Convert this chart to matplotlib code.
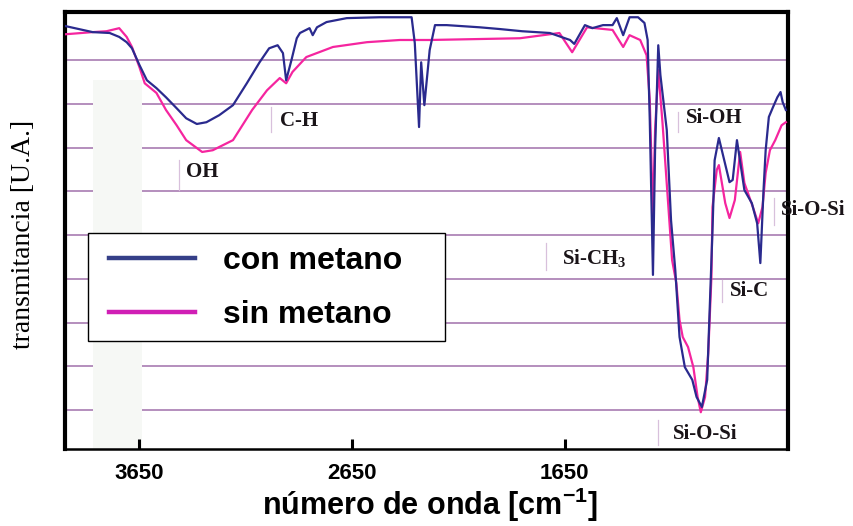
"""
Espectro FTIR (transmitancia) con / sin metano. Guarda out.png.
"""
import matplotlib
matplotlib.use("Agg")
import matplotlib.pyplot as plt
from matplotlib.lines import Line2D
from matplotlib.patches import Rectangle

# --- datos (numero de onda [cm-1], transmitancia [U.A.]) ---
con_wn = [4000, 3870, 3790, 3745, 3710, 3685, 3650, 3615, 3570, 3525, 3475, 3430,
          3380, 3335, 3275, 3210, 3145, 3085, 3040, 3000, 2975, 2960, 2935, 2910,
          2895, 2850, 2835, 2815, 2770, 2675, 2520, 2370, 2355, 2335, 2325, 2310,
          2285, 2260, 2205, 2050, 1955, 1850, 1720, 1625, 1605, 1555, 1520, 1470,
          1425, 1405, 1375, 1345, 1305, 1275, 1260, 1250, 1235, 1225, 1210, 1200,
          1170, 1150, 1130, 1110, 1085, 1050, 1030, 1005, 980, 970, 955, 945, 925,
          875, 860, 840, 805, 770, 745, 730, 715, 705, 690, 670, 650, 635, 625, 610]
con_t = [9.78, 9.64, 9.62, 9.53, 9.41, 9.27, 8.89, 8.54, 8.36, 8.15, 7.90, 7.67,
         7.54, 7.58, 7.74, 7.97, 8.47, 8.95, 9.27, 9.34, 9.16, 8.54, 9.00, 9.50,
         9.62, 9.73, 9.57, 9.75, 9.87, 9.96, 9.98, 9.98, 9.39, 7.47, 8.95, 7.97,
         9.23, 9.80, 9.80, 9.75, 9.71, 9.66, 9.62, 9.46, 9.37, 9.80, 9.73, 9.80,
         9.80, 9.96, 9.57, 9.98, 9.98, 9.85, 9.46, 7.63, 4.09, 6.94, 9.34, 8.66,
         7.40, 5.34, 4.20, 2.67, 1.98, 1.69, 1.30, 1.07, 1.69, 3.06, 5.11, 6.71, 7.22,
         6.21, 6.26, 7.17, 6.03, 5.73, 5.27, 4.36, 6.03, 6.94, 7.70, 7.93, 8.15, 8.27, 8.04, 7.86]

sin_wn = [4000, 3870, 3805, 3745, 3710, 3685, 3650, 3625, 3570, 3525, 3475, 3430,
          3380, 3355, 3305, 3210, 3120, 3050, 2990, 2960, 2930, 2865, 2740, 2580,
          2425, 2285, 1860, 1675, 1615, 1545, 1425, 1375, 1345, 1295, 1265, 1250,
          1235, 1225, 1210, 1190, 1145, 1125, 1110, 1095, 1070, 1045, 1025, 1010,
          990, 975, 960, 955, 935, 925, 895, 875, 850, 825, 805, 765, 740, 720,
          705, 685, 660, 630, 610]
sin_t = [9.59, 9.64, 9.66, 9.73, 9.53, 9.30, 8.84, 8.47, 8.25, 7.86, 7.51, 7.17,
         6.99, 6.90, 6.94, 7.17, 7.86, 8.31, 8.59, 8.47, 8.73, 9.07, 9.30, 9.41,
         9.46, 9.46, 9.50, 9.62, 9.18, 9.75, 9.69, 9.30, 9.57, 9.46, 9.11, 8.09,
         5.41, 7.40, 8.77, 7.56, 4.43, 3.90, 3.06, 2.67, 2.44, 1.98, 1.30, 0.95,
         1.30, 2.30, 4.04, 5.64, 6.49, 6.60, 5.73, 5.39, 5.80, 6.90, 6.19, 5.64,
         5.27, 5.64, 6.42, 6.94, 7.17, 7.51, 7.58]

xticks = [3650, 2650, 1650]
series_names = ["con metano", "sin metano"]

# bandas: texto, posicion del texto, marca vertical (x, y0, y1)
bands = [
    ("C-H", 2990, 7.61, 3030, 7.35, 7.93),
    ("OH", 3430, 6.44, 3465, 6.03, 6.71),
    ("Si-OH", 1080, 7.67, 1115, 7.35, 7.81),
    ("Si-O-Si", 635, 5.57, 665, 5.23, 5.85),
    (r"Si-CH$\mathregular{_3}$", 1665, 4.47, 1740, 4.20, 4.82),
    ("Si-C", 875, 3.72, 910, 3.47, 3.97),
    ("Si-O-Si", 1140, 0.45, 1210, 0.20, 0.77),
]

BLUE, PINK = "#2a2a8e", "#f5259f"
GRID = "#a87cb2"

fig = plt.figure(figsize=(8.54, 5.26), dpi=100)
ax = fig.add_axes([0.0761, 0.1464, 0.8466, 0.8308])
ax.set_xlim(4000, 600)
ax.set_ylim(0.11, 10.1)

for g in range(1, 10):
    ax.axhline(g, color=GRID, lw=1.2, zorder=1)
# franja clara del escaneo original
ax.axvspan(3870, 3636, ymin=0, ymax=0.844, color="#f6f8f5", lw=0, zorder=1.5)

ax.plot(sin_wn, sin_t, color=PINK, lw=1.6, zorder=3)
ax.plot(con_wn, con_t, color=BLUE, lw=1.6, zorder=3.1)

for txt, tx, ty, lx, y0, y1 in bands:
    ax.text(tx, ty, txt, family="Liberation Serif", weight="bold", fontsize=15,
            va="center", ha="left", color="#1a1418", zorder=4)
    ax.plot([lx, lx], [y0, y1], color="#d8c0dc", lw=0.9, zorder=2)

# leyenda (caja a mano, entradas con legend)
ax.add_patch(Rectangle((0.0318, 0.2471), 0.4938, 0.2471, transform=ax.transAxes,
                       facecolor="white", edgecolor="black", lw=1.0, zorder=4))
handles = [Line2D([], [], color="#353f88", lw=3.2),
           Line2D([], [], color="#d01fb5", lw=3.2)]
ax.legend(handles, series_names, loc="center", bbox_to_anchor=(0.2635, 0.368),
          frameon=False, prop={"family": "Liberation Sans", "weight": "bold", "size": 23},
          handlelength=2.7, handletextpad=0.88, labelspacing=0.76, borderpad=0
          ).set_zorder(5)

ax.set_xticks(xticks)
ax.set_xticklabels([str(t) for t in xticks], family="Liberation Sans",
                   weight="bold", fontsize=16)
ax.set_yticks([])
ax.tick_params(axis="x", direction="in", length=7, width=2.2, pad=10)

for side in ["left", "right", "top"]:
    ax.spines[side].set_linewidth(3)
ax.spines["bottom"].set_linewidth(1.8)

ax.set_xlabel(r"número de onda [cm$\mathregular{^{-1}}$]", family="Liberation Sans",
              weight="bold", fontsize=22)
ax.xaxis.set_label_coords(0.505, -0.084)
ax.set_ylabel("transmitancia [U.A.]", family="Liberation Serif", fontsize=20)
ax.yaxis.set_label_coords(-0.040, 0.49)

fig.savefig("out.png", dpi=100)
